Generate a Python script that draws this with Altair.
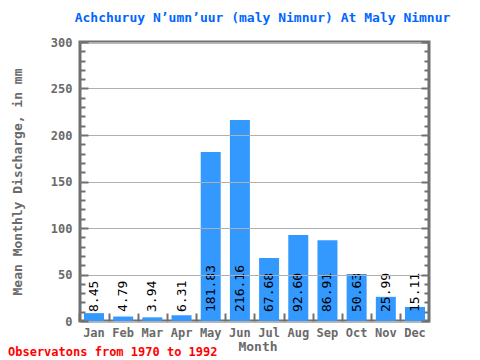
import altair as alt
import pandas as pd

months = ["Jan", "Feb", "Mar", "Apr", "May", "Jun", "Jul", "Aug", "Sep", "Oct", "Nov", "Dec"]
discharge = [8.45, 4.79, 3.94, 6.31, 181.83, 216.16, 67.68, 92.60, 86.91, 50.63, 25.99, 15.11]
y_ticks = [0, 50, 100, 150, 200, 250, 300]
minor_ticks = list(range(0, 301, 10))
title_text = "Achchuruy N\u2019umn\u2019uur (maly Nimnur) At Maly Nimnur"
footer_text = ["Observatons from 1970 to 1992"]

df = pd.DataFrame({"month": months, "value": discharge})
foot = pd.DataFrame({"t": footer_text})

W, H = 349, 279
FONT = "DejaVu Sans Mono"
GRAY = "#707070"
TEXTGRAY = "#6a6a6a"

xscale = alt.Scale(domain=months, paddingInner=0.315, paddingOuter=0.137)
yscale = alt.Scale(domain=[0, 300], nice=False)
tick_size = {"condition": {"test": "datum.value % 50 === 0", "value": 8}, "value": 5}

base = alt.Chart(df)

bars = base.mark_bar(color="#3399ff").encode(
    x=alt.X("month:N", sort=months, scale=xscale,
            axis=alt.Axis(title="Month", orient="bottom", ticks=False, domain=False,
                          labelAngle=0, labelFont=FONT, labelFontSize=12, labelFontWeight="bold",
                          labelColor=TEXTGRAY, labelPadding=6, titleFont=FONT, titleFontSize=13,
                          titleFontWeight="bold", titleColor=TEXTGRAY, titlePadding=2,
                          titleX=W / 2 + 3)),
    y=alt.Y("value:Q", scale=yscale,
            axis=alt.Axis(title="Mean Monthly Discharge, in mm", orient="left", values=y_ticks,
                          ticks=False, domain=False, grid=True, gridColor="#b0b0b0", gridWidth=1,
                          zindex=1, labelFont=FONT, labelFontSize=12, labelFontWeight="bold",
                          labelColor=TEXTGRAY, labelPadding=8, titleFont=FONT, titleFontSize=13,
                          titleFontWeight="bold", titleColor=TEXTGRAY, titlePadding=26)),
)

ticks_a = base.mark_bar(opacity=0).encode(
    x=alt.X("month:N", sort=months, scale=xscale,
            axis=alt.Axis(orient="top", offset=-H, labels=False, domain=False, grid=False,
                          title=None, tickSize=8, tickWidth=2, tickColor=GRAY,
                          bandPosition=0, tickOffset=-4.6, zindex=1)),
    y=alt.Y("value:Q", scale=yscale,
            axis=alt.Axis(orient="right", offset=-W, values=minor_ticks, labels=False,
                          domain=False, grid=False, title=None, tickSize=tick_size,
                          tickWidth=2, tickColor=GRAY, zindex=1)),
)

ticks_b = base.mark_bar(opacity=0).encode(
    x=alt.X("month:N", sort=months, scale=xscale, axis=None),
    y=alt.Y("value:Q", scale=yscale,
            axis=alt.Axis(orient="left", offset=-W, values=minor_ticks, labels=False,
                          domain=False, grid=False, title=None, tickSize=tick_size,
                          tickWidth=2, tickColor=GRAY, zindex=1)),
)

labels = base.transform_calculate(zero="0").mark_text(
    angle=270, align="left", baseline="middle", dx=9, font=FONT, fontSize=13, color="black"
).encode(
    x=alt.X("month:N", sort=months, scale=xscale, axis=None),
    y=alt.Y("zero:Q", scale=yscale, axis=None),
    text=alt.Text("value:Q", format=".2f"),
)

footer = alt.Chart(foot).mark_text(
    align="left", baseline="middle", font=FONT, fontSize=12, fontWeight="bold", color="#ff0000"
).encode(x=alt.value(-72), y=alt.value(H + 31), text="t:N")

chart = alt.layer(bars, ticks_a, ticks_b, labels, footer).resolve_axis(
    x="independent", y="independent"
).properties(
    width=W, height=H,
    title=alt.Title(title_text, font=FONT, fontSize=13, fontWeight="bold", color="#0066ff",
                    anchor="middle", dx=8, dy=-7),
    autosize=alt.AutoSizeParams(type="none"),
    padding={"left": 72, "top": 34, "right": 43, "bottom": 39},
).configure_view(stroke=GRAY, strokeWidth=3)

chart.save("out.html", embed_options={"renderer": "svg", "actions": False})
